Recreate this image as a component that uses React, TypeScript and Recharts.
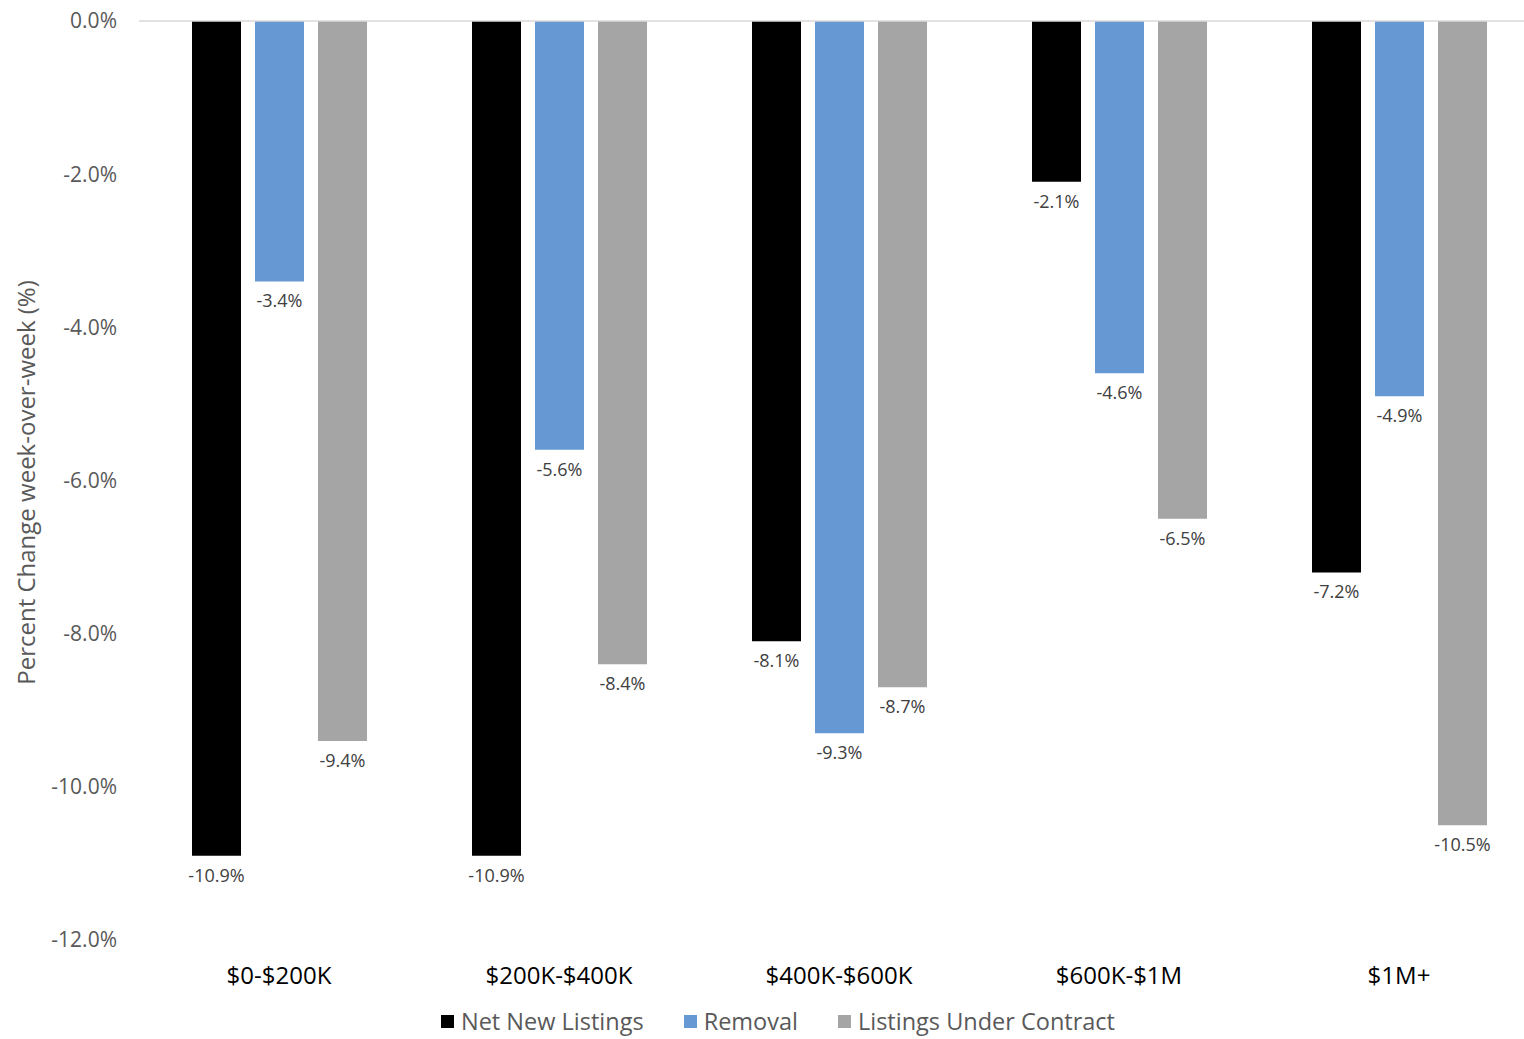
import React from 'react';
import { BarChart, Bar, XAxis, YAxis, Legend, ReferenceLine, LabelList } from 'recharts';

const categories = ['$0-$200K', '$200K-$400K', '$400K-$600K', '$600K-$1M', '$1M+'];
const netNewListings = [-10.9, -10.9, -8.1, -2.1, -7.2];
const removal = [-3.4, -5.6, -9.3, -4.6, -4.9];
const underContract = [-9.4, -8.4, -8.7, -6.5, -10.5];
const yTicks = [0, -2, -4, -6, -8, -10, -12];

const series = [
  { key: 'net', name: 'Net New Listings', color: '#000000' },
  { key: 'removal', name: 'Removal', color: '#6699D3' },
  { key: 'contract', name: 'Listings Under Contract', color: '#A5A5A5' },
];

const FONT = '"Open Sans", Lato, sans-serif';

const pct = (v: number) => `${v.toFixed(1)}%`;

const BarLabel = (props: any) => {
  const { x, y, width, height, value } = props;
  const bottom = Math.max(y, y + height);
  return (
    <text
      x={x + width / 2}
      y={bottom + 21}
      textAnchor="middle"
      dominantBaseline="middle"
      fontSize={18}
      fontFamily={FONT}
      fill="#404040"
    >
      {pct(value)}
    </text>
  );
};

const AxisTitle = (props: any) => {
  const vb = props.viewBox || {};
  const cx = 29;
  const cy = (vb.y || 0) + (vb.height || 0) / 2 + 2;
  return (
    <text
      x={cx}
      y={cy}
      transform={`rotate(-90, ${cx}, ${cy})`}
      textAnchor="middle"
      dominantBaseline="middle"
      fontSize={24}
      fontFamily={FONT}
      fill="#595959"
    >
      Percent Change week-over-week (%)
    </text>
  );
};

const LegendContent = () => (
  <div style={{ display: 'flex', justifyContent: 'center', alignItems: 'center', fontFamily: FONT }}>
    {series.map((s) => (
      <div key={s.key} style={{ display: 'flex', alignItems: 'center', margin: '0 20px' }}>
        <span style={{ display: 'inline-block', width: 13, height: 13, background: s.color, marginRight: 7 }} />
        <span style={{ fontSize: 23.5, color: '#595959' }}>{s.name}</span>
      </div>
    ))}
  </div>
);

const App: React.FC = () => {
  const data = categories.map((c, i) => ({
    category: c,
    net: netNewListings[i],
    removal: removal[i],
    contract: underContract[i],
  }));

  return (
    <div style={{ position: 'absolute', left: 0, top: 0, width: 1524, height: 1039, overflow: 'hidden', background: '#fff' }}>
      <BarChart
        width={1540}
        height={1039}
        data={data}
        margin={{ top: 21, right: 1, left: 0, bottom: 39 }}
        barGap={14}
        barSize={49}
      >
        <XAxis
          dataKey="category"
          axisLine={false}
          tickLine={false}
          tickSize={0}
          tickMargin={27}
          height={60}
          tick={{ fontSize: 24, fill: '#000', fontFamily: FONT }}
        />
        <YAxis
          domain={[-12, 0]}
          ticks={yTicks}
          tickFormatter={pct}
          axisLine={false}
          tickLine={false}
          tickSize={0}
          tickMargin={22}
          width={139}
          tick={{ fontSize: 21, fill: '#595959', fontFamily: FONT }}
          label={<AxisTitle />}
        />
        <ReferenceLine y={0} stroke="#D9D9D9" strokeWidth={1.5} />
        <Legend
          layout="horizontal"
          verticalAlign="middle"
          content={<LegendContent />}
          wrapperStyle={{ top: 1005, left: 0, width: 1556 }}
        />
        {series.map((s) => (
          <Bar key={s.key} dataKey={s.key} name={s.name} fill={s.color} isAnimationActive={false}>
            <LabelList dataKey={s.key} content={<BarLabel />} />
          </Bar>
        ))}
      </BarChart>
    </div>
  );
};

export default App;
